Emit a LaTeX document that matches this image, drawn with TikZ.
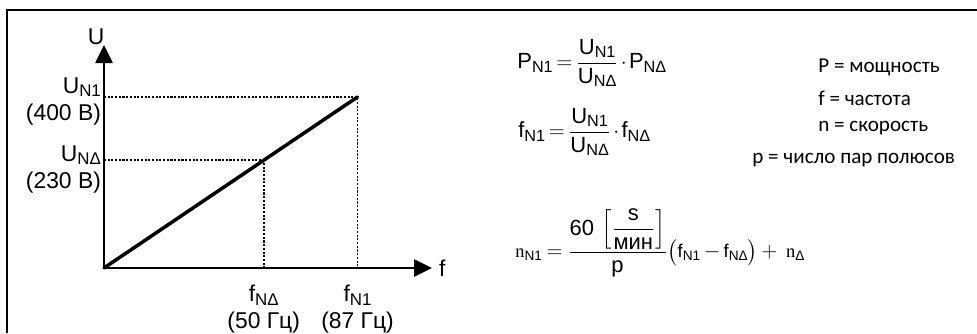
\documentclass[tikz,border=0pt]{standalone}
\usepackage{amsmath,amssymb}
\usepackage{fontspec}
\setmainfont{Liberation Sans}
\newfontfamily\legendfont{Carlito}
\newfontfamily\serifn{Liberation Serif}
\usetikzlibrary{arrows.meta,calc,positioning}
\definecolor{vfink}{HTML}{000000}
\newcommand{\sbs}[1]{\raisebox{-0.3ex}{\scalebox{0.74}{#1}}}
\newcommand{\smallpart}{\fontsize{10.5}{12}\selectfont}
\tikzset{
  frame/.style={draw=vfink,line width=1.7pt},
  axis/.style={-{Triangle[length=3.6mm,width=3.4mm]},draw=vfink,line width=1.5pt},
  curve/.style={draw=vfink,line width=2pt,line cap=round},
  guide/.style={draw=vfink,line width=1.1pt,dash pattern=on 1.2pt off 0.9pt},
  axlabel/.style={font=\fontsize{13}{15.5}\selectfont,text=vfink,inner sep=1pt},
  formula/.style={font=\fontsize{12.5}{15}\selectfont,text=vfink,anchor=west,inner sep=0pt},
  legend/.style={font=\legendfont\fontsize{12}{14}\selectfont,text=vfink,anchor=west,inner sep=0pt},
}

\begin{document}
\begin{tikzpicture}
  \useasboundingbox (0,0) rectangle (19.54,6.66);
  \draw[frame] (0.14,0) |- (19.54,6.46);
  \coordinate (o) at (2.08,1.30);
  \coordinate (ytip) at (2.08,5.76);
  \coordinate (xtip) at (8.64,1.30);
  \coordinate (pn1) at (7.15,4.72);
  \coordinate (pnd) at ($(o)!0.63!(pn1)$);
  \draw[guide] (pn1 -| o) -- (pn1) -- (pn1 |- o);
  \draw[guide] (pnd -| o) -- (pnd) -- (pnd |- o);
  \draw[axis] (o) -- (ytip);
  \draw[axis] (o) -- (xtip);
  \draw[curve] (o) -- (pn1);
  \node[axlabel,anchor=south] (ulab) at (1.92,5.72) {U};
  \node[axlabel,anchor=west] (flab) at (8.74,1.30) {f};
  \node[axlabel,anchor=east,align=right] (un1) at (2.06,4.63) {U\sbs{N1}\\(400 В)};
  \node[axlabel,anchor=east,align=right] (und) at (2.06,3.27) {U\sbs{NΔ}\\(230 В)};
  \node[axlabel,anchor=north,align=center] (fnd) at ($(pnd |- o)+(0,-0.3)$) {f\sbs{NΔ}\\(50 Гц)};
  \node[axlabel,anchor=north,align=center] (fn1) at ($(pn1 |- o)+(0,-0.3)$) {f\sbs{N1}\\(87 Гц)};
  \node[formula] (pform) at (10.34,5.40) {\thickmuskip=3mu\medmuskip=2mu$\text{P\sbs{N1}} = \dfrac{\text{U\sbs{N1}}}{\text{U\sbs{NΔ}}}\cdot\text{P\sbs{NΔ}}$};
  \node[formula] (fform) at (10.36,4.02) {\thickmuskip=3mu\medmuskip=2mu$\text{f\sbs{N1}} = \dfrac{\text{U\sbs{N1}}}{\text{U\sbs{NΔ}}}\cdot\text{f\sbs{NΔ}}$};
  \node[formula] (nform) at (10.30,1.80) {\thickmuskip=4mu\medmuskip=3mu$\text{\smallpart{\serifn n}\sbs{N1}} = \dfrac{\text{60}\,\left[\dfrac{\text{s}}{\text{мин}}\right]}{\text{p}}\bigl(\text{\smallpart f\sbs{N1}} - \text{\smallpart f\sbs{NΔ}}\bigr) + \text{\smallpart\ {\serifn n}\sbs{Δ}}$};
  \node[legend] (lgp) at (16.36,5.32) {P = мощность};
  \node[legend] (lgf) at (16.36,4.70) {f = частота};
  \node[legend] (lgn) at (16.36,4.10) {n = скорость};
  \node[legend] (lgpp) at (15.04,3.46) {p = число пар полюсов};
\end{tikzpicture}
\end{document}
